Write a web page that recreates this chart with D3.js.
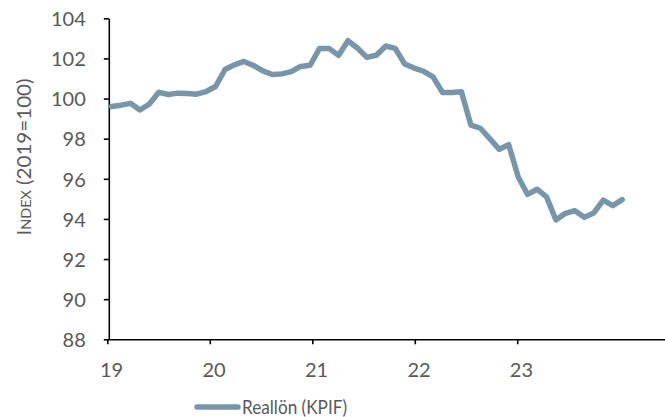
<!DOCTYPE html>
<html>
<head>
<meta charset="utf-8">
<script src="https://cdn.jsdelivr.net/npm/d3@7"></script>
<style>
  html, body { margin: 0; padding: 0; background: #fff; }
  svg { display: block; }
  text { font-family: Lato, "Open Sans", sans-serif; fill: #595959; }
</style>
</head>
<body>
<svg id="chart" width="665" height="417"></svg>
<script>
// Real wage index (KPIF-deflated), 2019 = 100, one value per period
const seriesName = "Reallön (KPIF)";
const realWage = [
  99.60, 99.67, 99.76, 99.43, 99.73, 100.31, 100.20, 100.27, 100.25, 100.22,
  100.35, 100.60, 101.45, 101.68, 101.85, 101.65, 101.38, 101.20, 101.23, 101.34,
  101.60, 101.66, 102.50, 102.50, 102.15, 102.88, 102.52, 102.05, 102.16, 102.62,
  102.50, 101.72, 101.52, 101.36, 101.08, 100.30, 100.30, 100.34, 98.68, 98.52,
  98.00, 97.47, 97.70, 96.10, 95.22, 95.48, 95.10, 93.95, 94.28, 94.41,
  94.08, 94.30, 94.94, 94.66, 94.96
];
// Year labels and the period position of each tick
const yearLabels = ["19", "20", "21", "22", "23"];
const yearTickAt = [-0.45, 10.39, 21.23, 32.07, 42.90];
const yTicks = [88, 90, 92, 94, 96, 98, 100, 102, 104];

const svg = d3.select("#chart");
const lineColor = "#7896aa";

const x = d3.scaleLinear().domain([-0.45, 58.53]).range([107.3, 665]);
const y = d3.scaleLinear().domain([88, 104]).range([339.3, 18.3]);

// Y axis
const yAxis = svg.append("g")
  .attr("transform", `translate(${x(-0.45) + 1.5},0)`)
  .call(d3.axisLeft(y).tickValues(yTicks).tickSize(5).tickSizeOuter(0).tickPadding(18));
yAxis.select(".domain").attr("stroke", "#000").attr("stroke-width", 1.6);
yAxis.selectAll(".tick line").attr("stroke", "#000").attr("stroke-width", 1.6);
yAxis.selectAll(".tick text")
  .style("font-size", "20px").attr("fill", "#595959").attr("dy", "0.36em");

// X axis
const xAxis = svg.append("g")
  .attr("transform", `translate(0,${y(88)})`)
  .call(d3.axisBottom(x).tickValues(yearTickAt).tickSize(5).tickSizeOuter(0).tickFormat(() => ""));
xAxis.select(".domain").attr("stroke", "#000").attr("stroke-width", 1.6);
xAxis.selectAll(".tick line").attr("stroke", "#000").attr("stroke-width", 1.6);

svg.append("g").selectAll("text")
  .data(yearLabels)
  .join("text")
  .attr("x", (d, i) => x(yearTickAt[i] + 0.45))
  .attr("y", 377)
  .attr("text-anchor", "middle")
  .style("font-size", "20px")
  .text(d => d);

// Y axis title
svg.append("text")
  .attr("transform", "translate(31,157) rotate(-90)")
  .attr("text-anchor", "middle")
  .attr("textLength", 157)
  .attr("lengthAdjust", "spacingAndGlyphs")
  .style("font-size", "20px")
  .style("font-variant", "small-caps")
  .text("Index (2019=100)");

// Series line
const line = d3.line()
  .x((d, i) => x(i))
  .y(d => y(d));

svg.append("path")
  .datum(realWage)
  .attr("fill", "none")
  .attr("stroke", lineColor)
  .attr("stroke-width", 5.5)
  .attr("stroke-linejoin", "round")
  .attr("stroke-linecap", "round")
  .attr("d", line);

// Legend
const legend = svg.append("g").attr("transform", "translate(197,407)");
legend.append("line")
  .attr("x1", 0).attr("x2", 41).attr("y1", 0).attr("y2", 0)
  .attr("stroke", lineColor).attr("stroke-width", 5.5).attr("stroke-linecap", "round");
legend.append("text")
  .attr("x", 45).attr("y", 7)
  .attr("textLength", 105)
  .attr("lengthAdjust", "spacingAndGlyphs")
  .style("font-size", "20px")
  .text(seriesName);
</script>
</body>
</html>
